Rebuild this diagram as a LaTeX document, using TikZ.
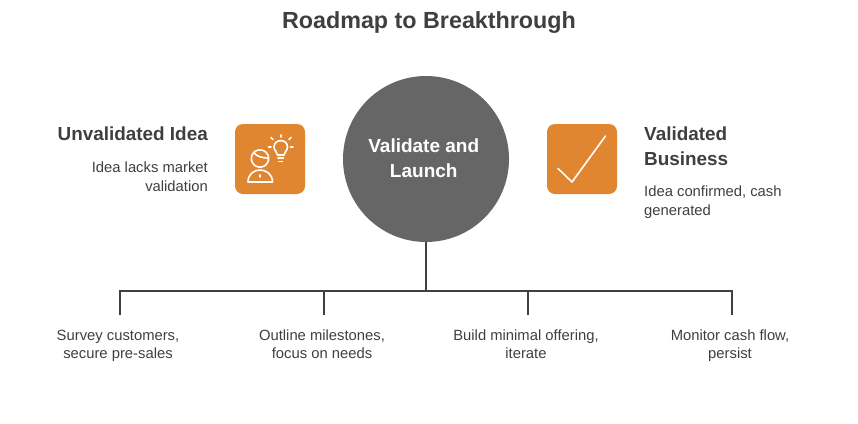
\documentclass[tikz,border=0pt]{standalone}
\usepackage{fontspec}
\setmainfont{Liberation Sans}
\definecolor{ink}{HTML}{3F3F3F}
\definecolor{hub}{HTML}{666666}
\definecolor{tile}{HTML}{E08631}
\tikzset{
  titletxt/.style={font=\fontsize{23.3}{27}\selectfont\bfseries,text=ink,inner sep=0pt},
  headtxt/.style={font=\fontsize{18.9}{24.5}\selectfont\bfseries,text=ink,inner sep=0pt},
  bodytxt/.style={font=\fontsize{14.8}{18.5}\selectfont,text=ink,inner sep=0pt},
  sidetxt/.style={font=\fontsize{14.8}{19.2}\selectfont,text=ink,inner sep=0pt},
  hubnode/.style={circle,fill=hub,minimum size=166pt,inner sep=0pt,text=white,align=center,font=\fontsize{19}{24.5}\selectfont\bfseries},
  tilenode/.style={rectangle,rounded corners=8pt,fill=tile,minimum size=70pt,inner sep=0pt},
  conn/.style={draw=ink,line width=2pt},
  iconln/.style={draw=white,line width=1.6pt,line cap=round,line join=round},
}
\begin{document}
\begin{tikzpicture}[x=1pt,y=-1pt]
\useasboundingbox (0,0) rectangle (858,423);
\node[titletxt] (title) at (429,22.5) {Roadmap to Breakthrough};
\node[hubnode] (hub) at (426,159) {\hspace*{-4.5pt}\raisebox{2pt}{Validate and}\\\hspace*{-4.5pt}\raisebox{2pt}{Launch}};
\node[tilenode] (left) at (270,159) {};
\node[tilenode] (right) at (582,159) {};
\node[headtxt,anchor=east] (lhead) at (208,134) {Unvalidated Idea};
\node[sidetxt,anchor=north east,align=right] (lbody) at (208,161.5) {Idea lacks market\\validation};
\node[headtxt,anchor=north west,align=left] (rhead) at (644,127) {Validated\\Business};
\node[sidetxt,anchor=north west,align=left] (rbody) at (644,185.5) {Idea confirmed, cash\\generated};
\coordinate (j) at (426,291);
\coordinate (a) at (120,291);\coordinate (a2) at (120,315);
\coordinate (b) at (324,291);\coordinate (b2) at (324,315);
\coordinate (c) at (528,291);\coordinate (c2) at (528,315);
\coordinate (d) at (732,291);\coordinate (d2) at (732,315);
\draw[conn] (hub.south) -- (j);
\draw[conn] (a2) -- (a) -- (d) -- (d2);
\draw[conn] (b) -- (b2);
\draw[conn] (c) -- (c2);
\node[bodytxt,align=center,anchor=north] (t1) at (118,329.5) {Survey customers,\\secure pre-sales};
\node[bodytxt,align=center,anchor=north] (t2) at (322,329.5) {Outline milestones,\\focus on needs};
\node[bodytxt,align=center,anchor=north] (t3) at (526,329.5) {Build minimal offering,\\iterate};
\node[bodytxt,align=center,anchor=north] (t4) at (730,329.5) {Monitor cash flow,\\persist};
% person and bulb icon
\draw[iconln] (260,158.5) circle (8.7);
\draw[iconln] (254,152.5) .. controls (256,156) and (261,158) .. (268.5,158);
\draw[iconln] (248,182) .. controls (248,174) and (254,170) .. (260,170) .. controls (266,170) and (272.5,174) .. (272.5,182) -- cycle;
\draw[iconln] (260,175) -- (260,177);
\draw[iconln] (277.5,155) .. controls (277.5,151.5) and (274,151) .. (274,147) .. controls (274,138.5) and (287.5,138.5) .. (287.5,147) .. controls (287.5,151) and (284,151.5) .. (284,155) -- cycle;
\draw[iconln] (278,158) -- (283.5,158) (279,161.5) -- (282.5,161.5);
\draw[iconln] (268.5,147) -- (271,147) (271,137.5) -- (273,139.5) (281,135) -- (281,137) (291,137.5) -- (289,139.5) (293,147) -- (290.5,147);
% check mark icon
\draw[iconln] (558,168.5) -- (572,182) -- (605.5,136);
\end{tikzpicture}
\end{document}
